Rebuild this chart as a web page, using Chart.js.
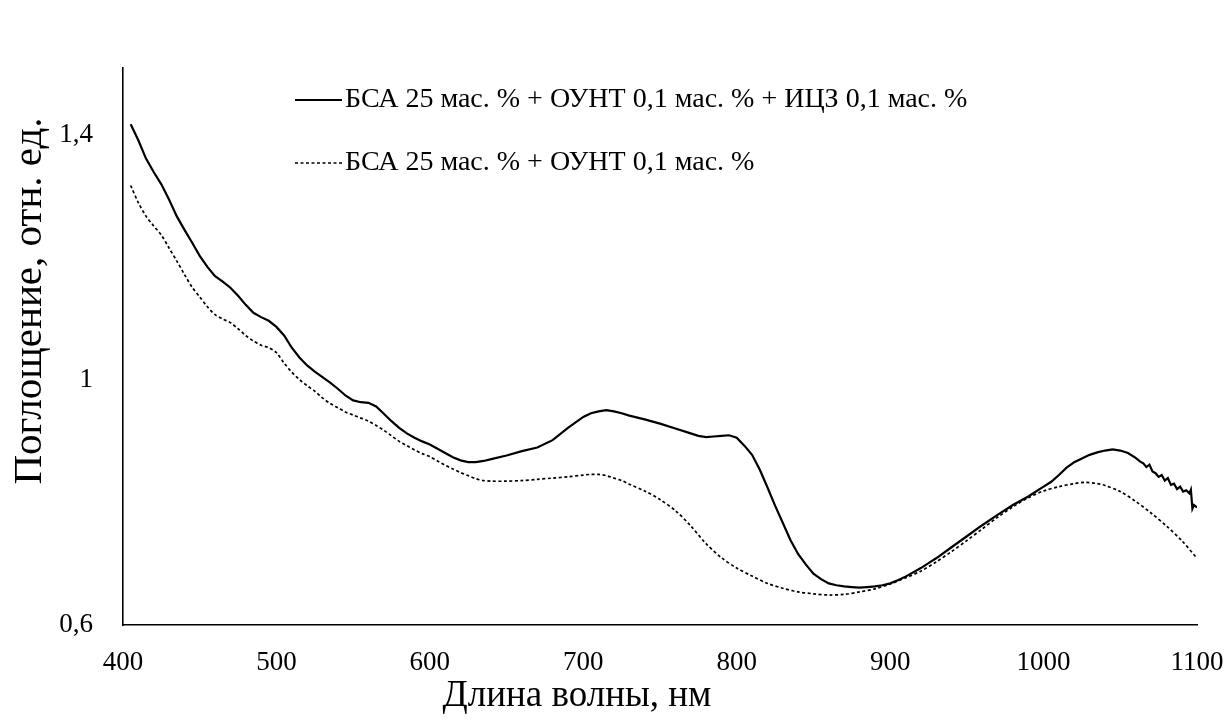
<!DOCTYPE html>
<html>
<head>
<meta charset="utf-8">
<script src="https://cdn.jsdelivr.net/npm/chart.js@4/dist/chart.umd.min.js"></script>
<style>
  html, body { margin: 0; padding: 0; background: #fff; }
  #wrap { width: 1232px; height: 720px; position: relative; }
</style>
</head>
<body>
<div id="wrap"><canvas id="c"></canvas></div>
<script>
// ---- Data ----
const seriesLabels = [
  'БСА 25 мас. % + ОУНТ 0,1 мас. % + ИЦЗ 0,1 мас. %',
  'БСА 25 мас. % + ОУНТ 0,1 мас. %'
];
const xTitle = 'Длина волны, нм';
const yTitle = 'Поглощение, отн. ед.';
const yTickValues = [0.6, 1.0, 1.4];

const wl1 = [405,410,415,420,425,430,435,440,445,450,455,460,465,470,475,480,485,490,495,500,
  505,510,515,520,525,530,535,540,545,550,555,560,565,570,575,580,585,590,595,600,
  605,610,615,620,625,630,635,640,650,660,670,680,690,700,705,710,715,720,725,730,
  740,750,760,770,775,780,785,790,795,800,805,810,815,820,825,830,835,840,845,850,
  855,860,865,870,875,880,885,890,895,900,905,910,915,920,925,930,940,950,960,970,
  980,990,1000,1005,1010,1015,1020,1025,1030,1035,1040,1045,1050,1055,1060,1063,1065,1067,1069,1071,
  1073,1075,1077,1079,1081,1083,1085,1087,1089,1091,1093,1095,1096,1097,1098,1100];
const abs1 = [1.418,1.392,1.362,1.340,1.320,1.295,1.268,1.246,1.225,1.203,1.185,1.170,1.161,1.151,1.138,1.123,1.110,1.103,1.097,1.087,
  1.073,1.053,1.037,1.024,1.014,1.005,0.996,0.986,0.975,0.967,0.964,0.963,0.957,0.945,0.933,0.922,0.913,0.906,0.900,0.895,
  0.888,0.881,0.874,0.869,0.866,0.866,0.868,0.871,0.877,0.884,0.890,0.902,0.922,0.940,0.946,0.949,0.951,0.949,0.946,0.942,
  0.936,0.929,0.921,0.913,0.909,0.907,0.908,0.909,0.910,0.906,0.893,0.878,0.854,0.825,0.795,0.767,0.739,0.716,0.699,0.684,
  0.675,0.668,0.665,0.663,0.662,0.661,0.662,0.663,0.665,0.668,0.673,0.679,0.686,0.693,0.701,0.709,0.727,0.745,0.763,0.780,
  0.796,0.810,0.826,0.834,0.845,0.857,0.866,0.872,0.878,0.882,0.885,0.887,0.885,0.881,0.873,0.867,0.864,0.858,0.862,0.851,
  0.848,0.842,0.845,0.836,0.840,0.829,0.831,0.822,0.826,0.818,0.820,0.815,0.821,0.790,0.796,0.792];

const wl2 = [405,410,415,420,425,430,435,440,445,450,455,460,465,470,475,480,485,490,495,500,
  505,510,515,520,525,530,535,540,545,550,555,560,565,570,575,580,585,590,595,600,
  605,610,615,620,625,630,635,640,650,660,670,680,690,700,705,710,715,720,725,730,
  740,750,760,770,780,790,800,810,820,830,840,850,860,870,880,890,900,910,920,930,
  940,950,960,970,980,990,1000,1010,1020,1027,1035,1040,1050,1060,1070,1080,1090,1100];
const abs2 = [1.318,1.290,1.268,1.252,1.237,1.216,1.195,1.173,1.152,1.136,1.120,1.107,1.100,1.094,1.084,1.073,1.064,1.057,1.053,1.045,
  1.028,1.013,1.001,0.991,0.982,0.971,0.962,0.955,0.948,0.943,0.938,0.933,0.926,0.918,0.909,0.900,0.893,0.886,0.880,0.875,
  0.868,0.861,0.855,0.849,0.844,0.839,0.836,0.835,0.835,0.836,0.838,0.840,0.842,0.845,0.846,0.846,0.844,0.840,0.836,0.830,
  0.819,0.805,0.787,0.762,0.733,0.710,0.693,0.680,0.668,0.660,0.654,0.651,0.649,0.650,0.654,0.659,0.667,0.677,0.688,0.703,
  0.720,0.738,0.757,0.776,0.793,0.808,0.819,0.826,0.831,0.833,0.831,0.828,0.818,0.802,0.783,0.762,0.738,0.709];

const FONT = "'Liberation Serif', 'Times New Roman', serif";

function toPoints(xs, ys) { return xs.map((x, i) => ({ x: x, y: ys[i] })); }

const annotationsPlugin = {
  id: 'texts',
  afterDraw(chart) {
    const ctx = chart.ctx;
    ctx.save();
    ctx.fillStyle = '#000';
    // x axis title
    ctx.font = '37px ' + FONT;
    ctx.textAlign = 'center';
    ctx.textBaseline = 'middle';
    ctx.fillText(xTitle, 577, 696);
    // y axis title
    ctx.save();
    ctx.font = '41px ' + FONT;
    ctx.translate(30, 301);
    ctx.rotate(-Math.PI / 2);
    ctx.fillText(yTitle, 0, 0);
    ctx.restore();
    // legend
    ctx.font = '28px ' + FONT;
    ctx.textAlign = 'left';
    const rows = [100, 163];
    chart.data.datasets.forEach((ds, i) => {
      const y = rows[i];
      ctx.beginPath();
      ctx.strokeStyle = ds.borderColor;
      ctx.lineWidth = ds.borderWidth;
      ctx.setLineDash(ds.borderDash || []);
      ctx.moveTo(295, y);
      ctx.lineTo(342, y);
      ctx.stroke();
      ctx.setLineDash([]);
      ctx.fillText(ds.label, 345, y);
    });
    ctx.restore();
  }
};

new Chart(document.getElementById('c'), {
  type: 'line',
  data: {
    datasets: [
      { label: seriesLabels[0], data: toPoints(wl1, abs1), borderColor: '#000', borderWidth: 2.2,
        pointRadius: 0, tension: 0, fill: false },
      { label: seriesLabels[1], data: toPoints(wl2, abs2), borderColor: '#000', borderWidth: 1.7,
        borderDash: [3, 2.5], pointRadius: 0, tension: 0.3, fill: false }
    ]
  },
  options: {
    responsive: true,
    maintainAspectRatio: false,
    animation: false,
    devicePixelRatio: 1,
    layout: { padding: { left: 0, right: 35, top: 68, bottom: 0 } },
    plugins: { legend: { display: false }, tooltip: { enabled: false } },
    scales: {
      x: {
        type: 'linear', min: 400, max: 1100,
        grid: { display: false },
        border: { display: true, color: '#000', width: 1.6 },
        ticks: { stepSize: 100, color: '#000', font: { family: FONT, size: 27 }, padding: 14, maxRotation: 0,
          callback: v => String(v) },
        afterFit(scale) { scale.height = 95; scale.paddingLeft = 0; scale.paddingRight = 0; }
      },
      y: {
        type: 'linear', min: 0.6, max: 1.51,
        grid: { display: false },
        border: { display: true, color: '#000', width: 1.6 },
        afterBuildTicks(scale) { scale.ticks = yTickValues.map(v => ({ value: v })); },
        ticks: {
          color: '#000', font: { family: FONT, size: 27 }, padding: 22,
          callback: v => String(Math.round(v * 10) / 10).replace('.', ',')
        },
        afterFit(scale) { scale.width = 123; scale.paddingTop = 0; scale.paddingBottom = 0; }
      }
    }
  },
  plugins: [annotationsPlugin]
});
</script>
</body>
</html>
